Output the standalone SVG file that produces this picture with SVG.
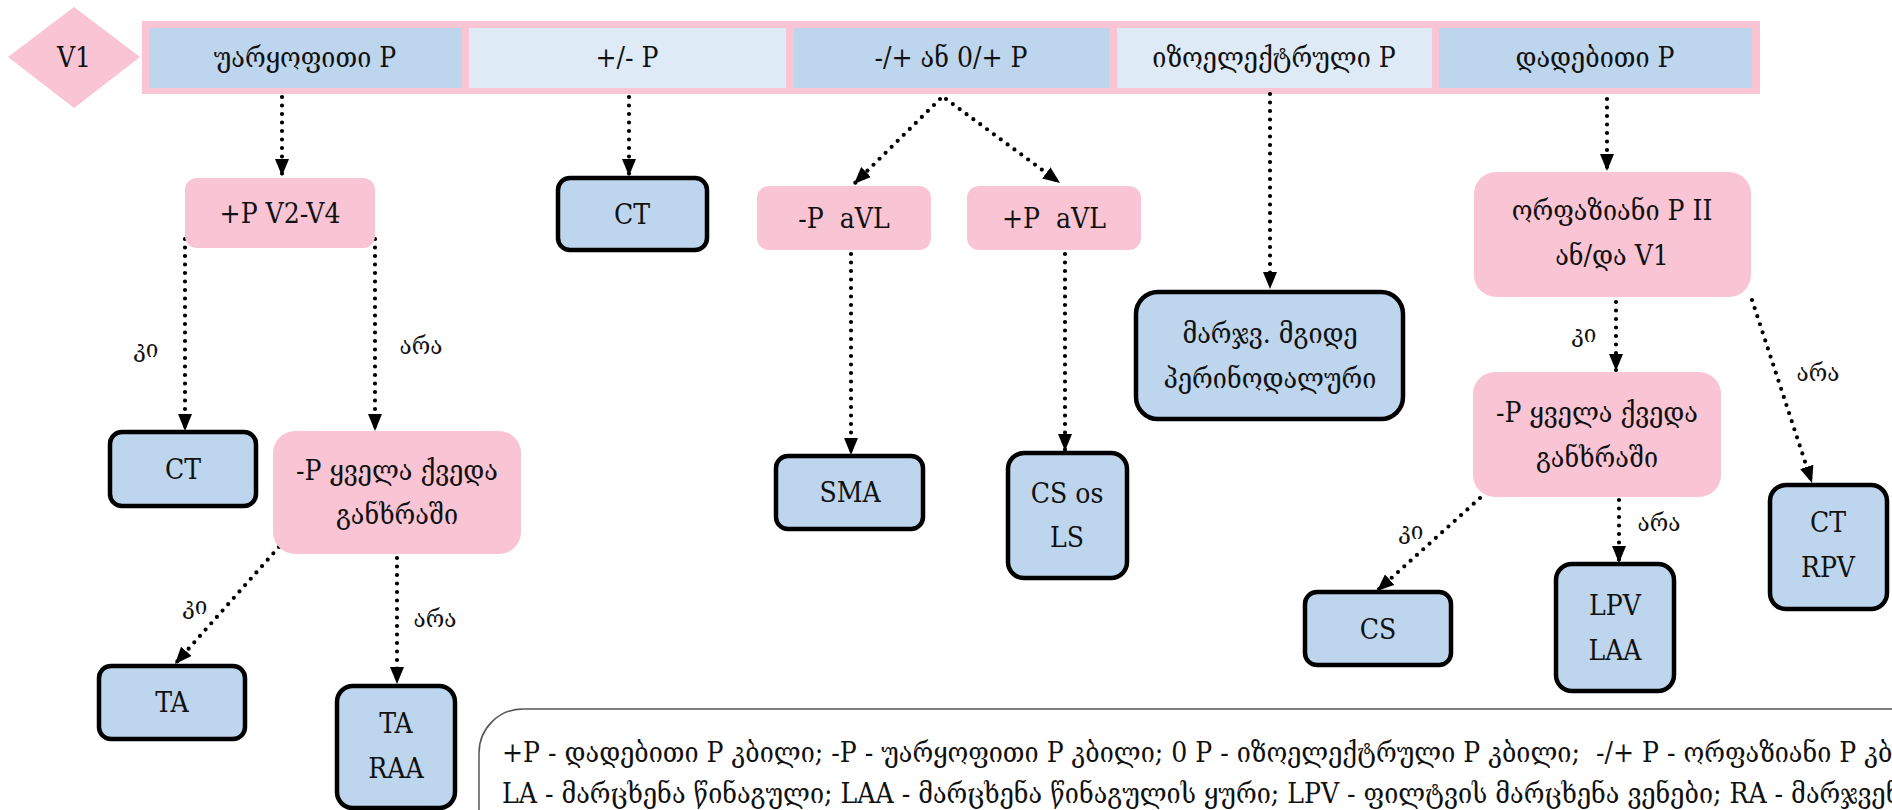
<svg xmlns="http://www.w3.org/2000/svg" width="1892" height="810" viewBox="0 0 1892 810">
<defs>
<marker id="ah" markerUnits="userSpaceOnUse" markerWidth="17" markerHeight="14" refX="17" refY="7" orient="auto">
<path d="M0,0 L17,7 L0,14 z" fill="#000"/>
</marker>
<style>
text{font-family:"DejaVu Serif Condensed","DejaVu Serif","Liberation Serif",serif;font-size:28px;fill:#111;text-anchor:middle;dominant-baseline:central;white-space:pre}
.pink{fill:#F9C4D3}
.blue{fill:#BDD6EE}
.light{fill:#DEEAF6}
.res{fill:#BDD6EE;stroke:#000;stroke-width:4.5}
.cond{fill:#F9C4D3}
.lbl{font-size:25px}
.leg{text-anchor:start;font-size:28px;dominant-baseline:alphabetic}
.con{fill:none;stroke:#000;stroke-width:4.2;stroke-linecap:round;stroke-dasharray:0 8.5;marker-end:url(#ah)}
</style>
</defs>
<rect width="1892" height="810" fill="#fff"/>

<g id="v1">
<polygon class="pink" points="74,7 140,57 74,108 8,57"/>
<text x="74" y="57">V1</text>
</g>

<g id="header">
<rect class="pink" x="142" y="21" width="1618" height="73"/>
<g id="h1"><rect class="blue" x="149" y="28" width="313" height="60"/><text x="305" y="57">უარყოფითი P</text></g>
<g id="h2"><rect class="light" x="469" y="28" width="317" height="60"/><text x="627" y="57">+/- P</text></g>
<g id="h3"><rect class="blue" x="794" y="28" width="315" height="60"/><text x="951" y="57">-/+ ან 0/+ P</text></g>
<g id="h4"><rect class="light" x="1117" y="28" width="315" height="60"/><text x="1274" y="57">იზოელექტრული P</text></g>
<g id="h5"><rect class="blue" x="1439" y="28" width="313" height="60"/><text x="1595" y="57">დადებითი P</text></g>
</g>

<g id="connectors">
<line class="con" x1="282" y1="97" x2="282" y2="176"/>
<line class="con" x1="629" y1="97" x2="629" y2="176"/>
<line class="con" x1="940" y1="99" x2="854" y2="184"/>
<line class="con" x1="946" y1="99" x2="1060" y2="183"/>
<line class="con" x1="1270" y1="94" x2="1270" y2="289"/>
<line class="con" x1="1607" y1="99" x2="1607" y2="171"/>
<line class="con" x1="1616" y1="302" x2="1616" y2="371"/>
<line class="con" x1="1752" y1="300" x2="1812" y2="483"/>
<line class="con" x1="1480" y1="498" x2="1377" y2="591"/>
<line class="con" x1="1619" y1="500" x2="1619" y2="563"/>
<line class="con" x1="185" y1="239" x2="185" y2="431"/>
<line class="con" x1="375" y1="239" x2="375" y2="431"/>
<line class="con" x1="279" y1="547" x2="175" y2="664"/>
<line class="con" x1="397" y1="558" x2="397" y2="684"/>
<line class="con" x1="851" y1="254" x2="851" y2="455"/>
<line class="con" x1="1065" y1="254" x2="1065" y2="451"/>
<text class="lbl" x="146" y="348">კი</text>
<text class="lbl" x="421" y="345">არა</text>
<text class="lbl" x="195" y="605">კი</text>
<text class="lbl" x="435" y="618">არა</text>
<text class="lbl" x="1584" y="333">კი</text>
<text class="lbl" x="1818" y="372">არა</text>
<text class="lbl" x="1411" y="530">კი</text>
<text class="lbl" x="1659" y="522">არა</text>
</g>

<g id="n_pv2v4"><rect class="cond" x="185" y="178" width="190" height="70" rx="12"/><text x="280" y="213">+P V2-V4</text></g>
<g id="n_ct1"><rect class="res" x="558" y="178" width="149" height="72" rx="12"/><text x="632" y="214">CT</text></g>
<g id="n_mavl"><rect class="cond" x="757" y="186" width="174" height="64" rx="12"/><text x="844" y="218" xml:space="preserve">-P  aVL</text></g>
<g id="n_pavl"><rect class="cond" x="967" y="186" width="174" height="64" rx="12"/><text x="1054" y="218" xml:space="preserve">+P  aVL</text></g>
<g id="n_perinodal"><rect class="res" x="1136" y="292" width="267" height="127" rx="22"/><text x="1270" y="333">მარჯვ. მგიდე</text><text x="1270" y="378">პერინოდალური</text></g>
<g id="n_biphasic"><rect class="cond" x="1474" y="172" width="277" height="125" rx="22"/><text x="1612" y="210">ორფაზიანი P II</text><text x="1612" y="255">ან/და V1</text></g>
<g id="n_inf2"><rect class="cond" x="1473" y="372" width="248" height="125" rx="22"/><text x="1597" y="412">-P ყველა ქვედა</text><text x="1597" y="457">განხრაში</text></g>
<g id="n_ctrpv"><rect class="res" x="1770" y="485" width="117" height="124" rx="16"/><text x="1828" y="522">CT</text><text x="1828" y="567">RPV</text></g>
<g id="n_cs"><rect class="res" x="1305" y="592" width="146" height="73" rx="12"/><text x="1378" y="629">CS</text></g>
<g id="n_lpvlaa"><rect class="res" x="1556" y="564" width="118" height="127" rx="16"/><text x="1615" y="605">LPV</text><text x="1615" y="650">LAA</text></g>
<g id="n_ct2"><rect class="res" x="110" y="432" width="146" height="74" rx="12"/><text x="183" y="469">CT</text></g>
<g id="n_inf1"><rect class="cond" x="273" y="431" width="248" height="123" rx="22"/><text x="397" y="470">-P ყველა ქვედა</text><text x="397" y="514">განხრაში</text></g>
<g id="n_ta"><rect class="res" x="99" y="666" width="146" height="73" rx="12"/><text x="172" y="702">TA</text></g>
<g id="n_taraa"><rect class="res" x="337" y="686" width="118" height="122" rx="16"/><text x="396" y="723">TA</text><text x="396" y="768">RAA</text></g>
<g id="n_sma"><rect class="res" x="776" y="456" width="147" height="73" rx="12"/><text x="850" y="492">SMA</text></g>
<g id="n_csls"><rect class="res" x="1008" y="453" width="119" height="125" rx="16"/><text x="1067" y="493">CS os</text><text x="1067" y="537">LS</text></g>

<g id="legend">
<rect x="479" y="709" width="1480" height="160" rx="44" fill="#fff" stroke="#555" stroke-width="1.5"/>
<text class="leg" x="502" y="762" xml:space="preserve">+P - დადებითი P კბილი; -P - უარყოფითი P კბილი; 0 P - იზოელექტრული P კბილი;  -/+ P - ორფაზიანი P კბილი;</text>
<text class="leg" x="502" y="803">LA - მარცხენა წინაგული; LAA - მარცხენა წინაგულის ყური; LPV - ფილტვის მარცხენა ვენები; RA - მარჯვენა</text>
</g>
</svg>
